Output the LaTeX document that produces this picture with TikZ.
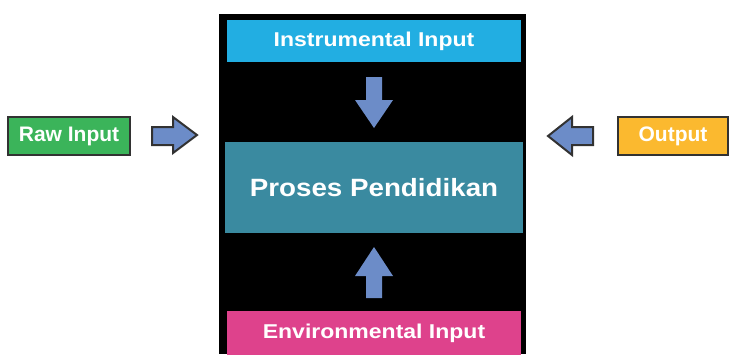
\documentclass[tikz,border=0pt]{standalone}
\usepackage{fontspec}
\setmainfont{Liberation Sans}
\definecolor{panel}{RGB}{0,0,0}
\definecolor{instr}{RGB}{34,174,226}
\definecolor{proses}{RGB}{58,138,160}
\definecolor{envin}{RGB}{222,66,140}
\definecolor{rawg}{RGB}{59,180,90}
\definecolor{outy}{RGB}{251,185,47}
\definecolor{arrowb}{RGB}{108,140,200}
\definecolor{edge}{RGB}{50,50,50}
\tikzset{
  box/.style={rectangle, inner sep=0pt, text=white, font=\bfseries},
  sidebox/.style={box, draw=edge, line width=2pt, font=\bfseries\fontsize{21}{24}\selectfont},
  blockarrow/.style={fill=arrowb, draw=edge, line width=2pt, line join=miter}
}
\begin{document}
\begin{tikzpicture}[x=1pt,y=-1pt]
\useasboundingbox (0,0) rectangle (730,354);
\fill[panel] (219,14) rectangle (526,354);
\node[box, fill=instr, minimum width=294pt, minimum height=42pt, font=\bfseries\fontsize{20}{22}\selectfont] (instr) at (374,41) {\scalebox{1.15}[1]{Instrumental Input}};
\node[box, fill=proses, minimum width=298pt, minimum height=91pt, font=\bfseries\fontsize{25}{28}\selectfont] (proses) at (374,187.5) {\scalebox{1.11}[1]{Proses Pendidikan}};
\node[box, fill=envin, minimum width=294pt, minimum height=44pt, font=\bfseries\fontsize{20}{22}\selectfont] (env) at (374,333) {\scalebox{1.15}[1]{Environmental Input}};
\node[sidebox, fill=rawg, minimum width=122pt, minimum height=38pt] (raw) at (69,136) {Raw Input};
\node[sidebox, fill=outy, minimum width=110pt, minimum height=38pt] (out) at (673,136) {Output};
% panel arrows
\fill[arrowb] (366,77) -- (382,77) -- (382,100) -- (393,100) -- (374,128) -- (355,100) -- (366,100) -- cycle;
\fill[arrowb] (366,298) -- (382,298) -- (382,276) -- (393,276) -- (374,247) -- (355,276) -- (366,276) -- cycle;
% side arrows
\draw[blockarrow] (152,127) -- (173,127) -- (173,117) -- (197,135) -- (173,153) -- (173,145) -- (152,145) -- cycle;
\draw[blockarrow] (593,127) -- (572,127) -- (572,117) -- (548,136) -- (572,155) -- (572,145) -- (593,145) -- cycle;
\end{tikzpicture}
\end{document}
